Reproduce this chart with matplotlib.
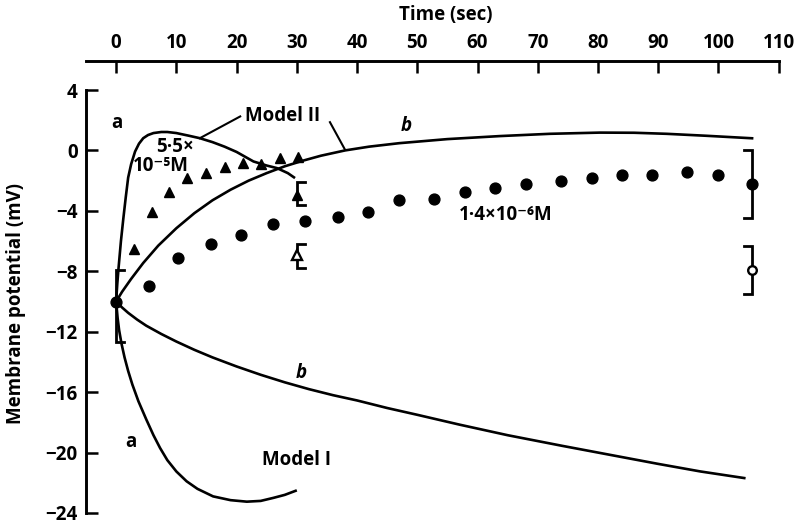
import numpy as np
import matplotlib
matplotlib.use("Agg")
import matplotlib.pyplot as plt

plt.rcParams['font.family'] = ['Open Sans', 'DejaVu Sans']
plt.rcParams['font.weight'] = 'bold'

# Measured points, 1.4e-6 M (filled circles)
t_low = [0, 5.5, 10.3, 15.7, 20.8, 26.0, 31.3, 36.9, 41.8, 46.9, 52.7, 57.9,
         62.9, 68.0, 73.9, 79.0, 84.0, 88.9, 94.8, 100.0]
v_low = [-10.0, -9.0, -7.1, -6.2, -5.6, -4.9, -4.7, -4.4, -4.1, -3.3, -3.2, -2.75,
         -2.5, -2.2, -2.05, -1.8, -1.65, -1.65, -1.45, -1.65]

# Measured points, 5.5e-5 M (filled triangles)
t_high = [3.0, 5.9, 8.8, 11.8, 15.0, 18.0, 21.1, 24.1, 27.2, 30.2]
v_high = [-6.5, -4.05, -2.75, -1.85, -1.5, -1.1, -0.8, -0.9, -0.5, -0.45]

# Points with brackets: time, value, low, high, cap side (+1 right, -1 left)
br_t = [0, 30, 30, 105.5, 105.5]
br_v = [None, -2.95, -6.95, -2.2, -7.9]
br_lo = [-12.7, -3.6, -7.75, -4.5, -9.5]
br_hi = [-7.9, -2.1, -6.2, 0.05, -6.35]
br_side = [1, 1, 1, -1, -1]

# Model II, curve a
m2a_t = [0, 0.2, 0.4, 0.8, 1.2, 1.6, 2.0, 2.5, 3.15, 3.8, 4.5, 5.3, 6.2, 7.5, 8.5,
         10, 12, 13.9, 16, 18, 20, 22.8, 25, 26.7, 28.5, 29.7]
m2a_v = [-10, -8.8, -7.8, -6.0, -4.5, -3.1, -1.8, -0.9, -0.07, 0.45, 0.81, 1.02, 1.15,
         1.22, 1.22, 1.15, 0.98, 0.81, 0.55, 0.25, -0.1, -0.73, -1.0, -1.17, -1.5, -1.83]

# Model II, curve b
m2b_t = [0, 1, 2.5, 4.5, 7, 10, 13, 16, 19, 22, 25, 28, 31, 34, 38, 42, 47, 55,
         63.7, 72, 80.3, 86, 91.4, 98, 105.8]
m2b_v = [-10, -9.35, -8.5, -7.45, -6.3, -5.15, -4.15, -3.3, -2.6, -2.0, -1.5, -1.05,
         -0.68, -0.35, 0.0, 0.25, 0.48, 0.75, 0.95, 1.1, 1.18, 1.17, 1.1, 0.97, 0.8]

# Model I, curve a
m1a_t = [0, 0.25, 0.5, 0.9, 1.4, 2.0, 2.7, 3.7, 5.0, 6.2, 7.3, 8.5, 10, 11.7, 13.5,
         16.1, 19, 21.7, 24, 26.1, 28, 30]
m1a_v = [-10, -11.1, -11.9, -12.8, -13.7, -14.6, -15.5, -16.6, -17.8, -18.85, -19.7,
         -20.5, -21.25, -21.9, -22.4, -22.9, -23.15, -23.25, -23.2, -23.0, -22.8, -22.5]

# Model I, curve b
m1b_t = [0, 1, 2, 3.5, 5, 7.5, 10, 13, 16, 20, 24, 28, 32, 36, 40, 45, 50, 57, 65,
         74, 82, 90, 97, 104.5]
m1b_v = [-10, -10.4, -10.75, -11.2, -11.6, -12.15, -12.65, -13.2, -13.7, -14.3, -14.85,
         -15.35, -15.8, -16.2, -16.55, -17.05, -17.5, -18.15, -18.85, -19.55, -20.15,
         -20.75, -21.25, -21.7]

# Leader lines for "Model II"
lead1_t, lead1_v = [13.9, 20.6], [0.81, 2.25]
lead2_t, lead2_v = [35.5, 38.0], [1.87, 0.05]

x_ticks = list(range(0, 111, 10))
y_ticks = [4, 0, -4, -8, -12, -16, -20, -24]

fig = plt.figure(figsize=(7.94, 5.22), dpi=100)
ax = fig.add_axes([86 / 794, 1 - 513 / 522, 692.7 / 794, 452 / 522])

lw = 1.9
for tt, vv in [(m2a_t, m2a_v), (m2b_t, m2b_v), (m1a_t, m1a_v), (m1b_t, m1b_v)]:
    ax.plot(tt, vv, color='black', lw=lw, solid_capstyle='butt', solid_joinstyle='round')
ax.plot(lead1_t, lead1_v, color='black', lw=1.5)
ax.plot(lead2_t, lead2_v, color='black', lw=1.5)

ax.plot(t_low, v_low, 'o', color='black', ms=7.8, zorder=5)
ax.plot(t_high, v_high, '^', color='black', ms=7, zorder=5)

# brackets
cap = 1.3
for t, v, lo, hi, s in zip(br_t, br_v, br_lo, br_hi, br_side):
    ax.plot([t + s * cap, t, t, t + s * cap], [hi, hi, lo, lo], color='black',
            lw=2.0, solid_joinstyle='miter', zorder=4)

ax.plot([br_t[1]], [br_v[1]], '^', color='black', ms=7, zorder=6)
ax.plot([br_t[2]], [br_v[2]], '^', mfc='white', mec='black', mew=1.7, ms=7, zorder=6)
ax.plot([br_t[3]], [br_v[3]], 'o', color='black', ms=7.8, zorder=6)
ax.plot([br_t[4]], [br_v[4]], 'o', mfc='white', mec='black', mew=1.7, ms=6.2, zorder=6)

fs = 13.5
ax.text(0.1, 1.8, 'a', fontsize=fs, ha='center', va='center')
ax.text(2.4, -19.3, 'a', fontsize=fs, ha='center', va='center')
ax.text(48.1, 1.65, 'b', fontsize=fs, ha='center', va='center', style='italic')
ax.text(30.8, -14.75, 'b', fontsize=fs, ha='center', va='center', style='italic')
ax.text(27.6, 2.3, 'Model II', fontsize=fs, ha='center', va='center')
ax.text(30.0, -20.5, 'Model I', fontsize=fs, ha='center', va='center')
ax.text(9.8, 0.2, '5·5×', fontsize=fs, ha='center', va='center')
ax.text(7.4, -1.05, '10⁻⁵M', fontsize=fs, ha='center', va='center')
ax.text(64.6, -4.26, '1·4×10⁻⁶M', fontsize=fs, ha='center', va='center')

ax.set_xlim(-5, 110)
ax.set_ylim(-24, 5.92)
ax.set_xticks(x_ticks)
ax.set_yticks(y_ticks)
ax.set_yticklabels([str(v).replace('-', '−') for v in y_ticks])

ax.xaxis.tick_top()
for side in ['right', 'bottom']:
    ax.spines[side].set_visible(False)
for side in ['top', 'left']:
    ax.spines[side].set_linewidth(2.1)
ax.spines['left'].set_bounds(-24, 4)
ax.tick_params(axis='both', direction='in', length=8.5, width=1.8, labelsize=fs, pad=6)
ax.patch.set_visible(False)

fig.text(446 / 794, 1 - 15 / 522, 'Time (sec)', fontsize=fs, ha='center', va='center')
fig.text(16 / 794, 1 - 303 / 522, 'Membrane potential (mV)', fontsize=fs, ha='center',
         va='center', rotation=90)

fig.savefig('out.png', dpi=100)
